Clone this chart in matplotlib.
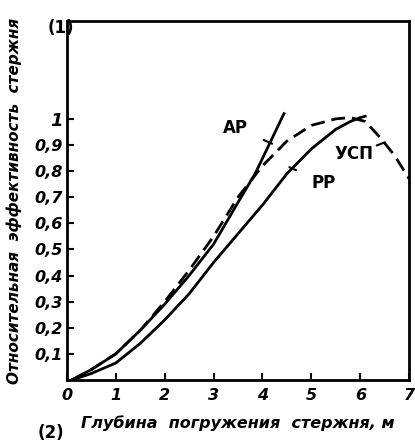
import matplotlib
matplotlib.use('Agg')
from matplotlib import pyplot as plt

plt.rcParams['font.family'] = ['DejaVu Sans']

# Values.
depth_ar = [0.1, 0.5, 1.0, 1.5, 2.0, 2.5, 3.0, 3.5, 3.85, 4.44]
eff_ar = [0.0, 0.04, 0.10, 0.19, 0.29, 0.40, 0.52, 0.68, 0.79, 1.02]

depth_usp = [0.1, 0.5, 1.0, 1.5, 2.0, 2.5, 3.0, 3.5, 4.0, 4.5, 5.0, 5.5,
             5.8, 6.1, 6.4, 6.7, 7.0]
eff_usp = [0.0, 0.04, 0.10, 0.19, 0.30, 0.42, 0.55, 0.70, 0.82, 0.915,
           0.975, 1.0, 1.005, 0.99, 0.93, 0.86, 0.77]

depth_pp = [0.1, 0.5, 1.0, 1.5, 2.0, 2.5, 3.0, 3.5, 4.0, 4.5, 5.0, 5.5,
            5.8, 6.0, 6.1]
eff_pp = [0.0, 0.025, 0.065, 0.14, 0.23, 0.33, 0.45, 0.56, 0.67, 0.79,
          0.885, 0.96, 0.99, 1.005, 1.01]

x_ticks = [0, 1, 2, 3, 4, 5, 6, 7]
y_ticks = [0.1, 0.2, 0.3, 0.4, 0.5, 0.6, 0.7, 0.8, 0.9, 1.0]
y_labels = ['0,1', '0,2', '0,3', '0,4', '0,5', '0,6', '0,7', '0,8', '0,9', '1']

fig = plt.figure(figsize=(4.15, 4.45), dpi=100)
ax = fig.add_axes([0.161, 0.146, 0.825, 0.807])

ax.plot(depth_ar, eff_ar, c='black', lw=2)
ax.plot(depth_pp, eff_pp, c='black', lw=2)
ax.plot(depth_usp, eff_usp, c='black', lw=2, dashes=(5, 2.5))

ax.set_xlim(0, 7)
ax.set_ylim(0, 1.375)
ax.set_xticks(x_ticks)
ax.set_xticklabels([str(v) for v in x_ticks])
ax.set_yticks(y_ticks)
ax.set_yticklabels(y_labels)
ax.tick_params(direction='in', length=5, width=1.5, labelsize=11.5)
ax.tick_params(axis='y', pad=3)
ax.tick_params(axis='x', pad=6)
for lab in ax.get_xticklabels() + ax.get_yticklabels():
    lab.set_style('italic')
    lab.set_weight('bold')
ax.get_yticklabels()[-1].set_fontsize(13)
for s in ax.spines.values():
    s.set_linewidth(2)

# Curve labels with leader lines.
txt = dict(fontsize=12, fontweight='bold', ha='center', va='center')
ax.annotate('АР', xy=(4.2, 0.905), xytext=(3.45, 0.965),
            arrowprops=dict(arrowstyle='-', lw=1.5, shrinkA=10, shrinkB=0), **txt)
ax.annotate('РР', xy=(4.55, 0.815), xytext=(5.25, 0.755),
            arrowprops=dict(arrowstyle='-', lw=1.5, shrinkA=10, shrinkB=0), **txt)
ax.annotate('УСП', xy=(6.5, 0.91), xytext=(5.88, 0.865),
            arrowprops=dict(arrowstyle='-', lw=1.5, shrinkA=14, shrinkB=0), **txt)

ax.set_xlabel('Глубина  погружения  стержня, м', fontsize=11.5,
              style='italic', fontweight='bold')
ax.xaxis.set_label_coords(0.5, -0.097)
ax.set_ylabel('Относительная  эффективность  стержня', fontsize=11,
              style='italic', fontweight='bold')
ax.yaxis.set_label_coords(-0.13, 0.5)

fig.text(0.115, 0.937, '(1)', fontsize=12, fontweight='bold', va='center')
fig.text(0.09, 0.028, '(2)', fontsize=12, fontweight='bold', va='center')

fig.savefig('out.png', dpi=100)
